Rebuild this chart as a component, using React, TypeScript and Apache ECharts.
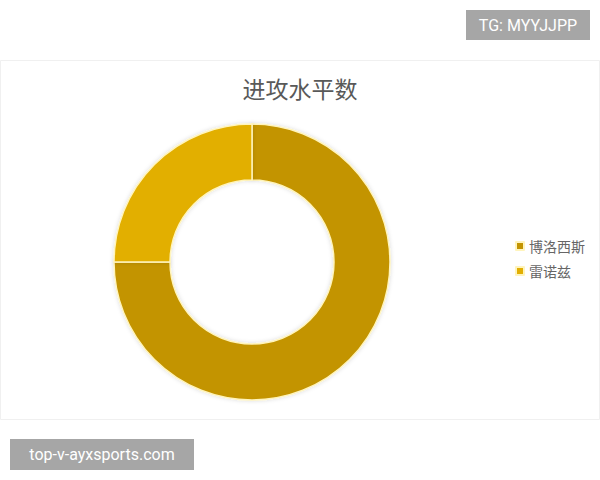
import React, { useEffect, useRef } from 'react';
import * as echarts from 'echarts';

const players = ['博洛西斯', '雷诺兹'];
const attackValues = [75, 25];
const sliceColors = ['#C39400', '#E2AF02'];

const App: React.FC = () => {
  const chartRef = useRef<HTMLDivElement>(null);

  useEffect(() => {
    if (!chartRef.current) return;
    const chart = echarts.init(chartRef.current, null, { renderer: 'svg' });

    const font = '"Noto Sans CJK SC", "Noto Sans", sans-serif';

    chart.setOption({
      animation: false,
      backgroundColor: '#ffffff',
      title: {
        text: '进攻水平数',
        left: 'center',
        top: 71,
        textStyle: {
          fontFamily: font,
          fontSize: 23,
          fontWeight: 'normal',
          color: '#595959'
        }
      },
      legend: {
        orient: 'vertical',
        left: 510,
        top: 234,
        icon: 'rect',
        itemWidth: 8,
        itemHeight: 8,
        itemGap: 11,
        data: players,
        textStyle: {
          fontFamily: font,
          fontSize: 14,
          color: '#666666'
        }
      },
      graphic: [
        {
          type: 'rect',
          z: -10,
          shape: { x: 0.5, y: 60.5, width: 599, height: 359 },
          style: { fill: '#ffffff', stroke: '#f0f0f0', lineWidth: 1 }
        },
        {
          type: 'group',
          left: 466,
          top: 10,
          children: [
            { type: 'rect', shape: { x: 0, y: 0, width: 124, height: 30 }, style: { fill: '#a6a6a6' } },
            {
              type: 'text',
              x: 62,
              y: 15,
              style: {
                text: 'TG: MYYJJPP',
                fill: '#ffffff',
                fontFamily: 'Roboto, sans-serif',
                fontSize: 16,
                align: 'center',
                verticalAlign: 'middle'
              }
            }
          ]
        },
        {
          type: 'group',
          left: 10,
          top: 439,
          children: [
            { type: 'rect', shape: { x: 0, y: 0, width: 184, height: 31 }, style: { fill: '#a6a6a6' } },
            {
              type: 'text',
              x: 92,
              y: 15.5,
              style: {
                text: 'top-v-ayxsports.com',
                fill: '#ffffff',
                fontFamily: 'Roboto, sans-serif',
                fontSize: 16,
                align: 'center',
                verticalAlign: 'middle'
              }
            }
          ]
        }
      ],
      series: [
        {
          name: '进攻水平数',
          type: 'pie',
          radius: [82, 138],
          center: [252, 262],
          startAngle: 90,
          clockwise: true,
          label: { show: false },
          labelLine: { show: false },
          itemStyle: {
            borderColor: '#FFF4BC',
            borderWidth: 1.5,
            shadowBlur: 4,
            shadowColor: 'rgba(0, 0, 0, 0.15)'
          },
          data: players.map((name, i) => ({
            name,
            value: attackValues[i],
            itemStyle: { color: sliceColors[i] }
          }))
        }
      ]
    });

    return () => {
      chart.dispose();
    };
  }, []);

  return (
    <div
      ref={chartRef}
      style={{ width: 600, height: 480, position: 'absolute', left: 0, top: 0 }}
    />
  );
};

export default App;
